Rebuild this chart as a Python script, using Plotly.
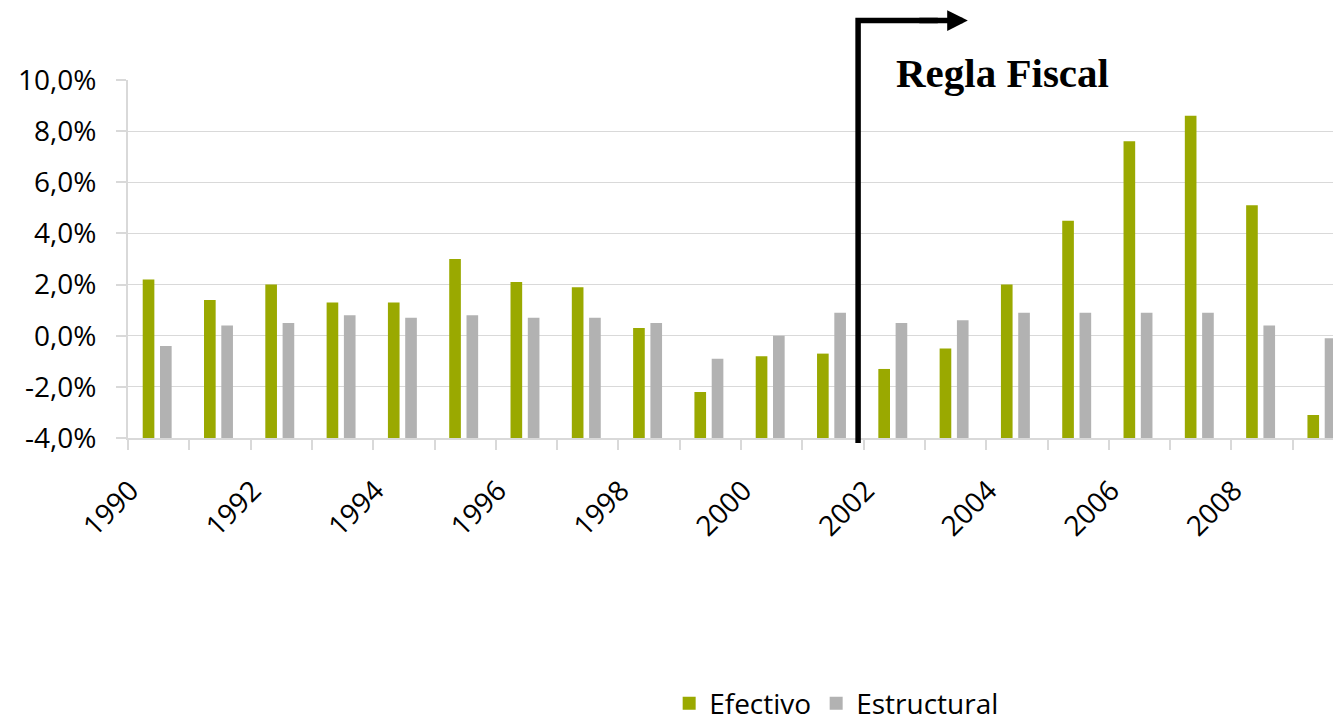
import plotly.graph_objects as go

years = list(range(1990, 2010))
efectivo = [2.2, 1.4, 2.0, 1.3, 1.3, 3.0, 2.1, 1.9, 0.3, -2.2,
            -0.8, -0.7, -1.3, -0.5, 2.0, 4.5, 7.6, 8.6, 5.1, -3.1]
estructural = [-0.4, 0.4, 0.5, 0.8, 0.7, 0.8, 0.7, 0.7, 0.5, -0.9,
               0.0, 0.9, 0.5, 0.6, 0.9, 0.9, 0.9, 0.9, 0.4, -0.1]
label_years = list(range(1990, 2010, 2))
y_ticks = [-4, -2, 0, 2, 4, 6, 8, 10]
y_ticktext = [f"{v:.1f}".replace(".", ",") + "%" for v in y_ticks]

Y_MIN, Y_MAX = -4, 10
GREEN = "#9aa900"
GRAY = "#b2b2b2"
GRID = "#d9d9d9"
FONT = "Open Sans"
BAR_W = 0.19

fig = go.Figure()
for name, vals, col, off in [("Efectivo", efectivo, GREEN, -0.26),
                             ("Estructural", estructural, GRAY, 0.022)]:
    fig.add_trace(go.Bar(
        x=years, y=[v - Y_MIN for v in vals], base=Y_MIN, name=name,
        width=BAR_W, offset=off,
        legendgroup=name, showlegend=False,
        customdata=vals, hovertemplate="%{x}: %{customdata:.1f}%<extra>" + name + "</extra>",
        marker=dict(color=col, line=dict(width=0)),
    ))
    # legend-only entry with a square swatch
    fig.add_trace(go.Scatter(
        x=[None], y=[None], mode="markers", name=name, legendgroup=name,
        marker=dict(symbol="square", size=13, color=col), showlegend=True,
    ))

fig.update_layout(
    width=1333, height=726,
    margin=dict(l=128, r=0, t=80, b=288, autoexpand=False),
    paper_bgcolor="white", plot_bgcolor="white",
    barmode="overlay",
    font=dict(family=FONT, size=28, color="black"),
    showlegend=True,
    legend=dict(orientation="h", xref="container", yref="container",
                x=0.502, y=0.031, xanchor="left", yanchor="middle",
                font=dict(size=28), itemwidth=30, traceorder="normal"),
)
fig.update_xaxes(
    range=[1989.5, 2009.157],
    tickmode="array", tickvals=[y - 0.46 for y in label_years],
    ticktext=[str(y) for y in label_years],
    tickangle=-45, ticks="", ticklabelstandoff=23,
    showline=True, linecolor=GRID, linewidth=2,
    showgrid=False, zeroline=False,
    minor=dict(tick0=1989.5, dtick=1, ticks="outside", ticklen=10,
               tickcolor=GRID, tickwidth=2, showgrid=False),
    tickfont=dict(size=28),
)
fig.update_yaxes(
    range=[Y_MIN, Y_MAX], tickmode="array", tickvals=y_ticks, ticktext=y_ticktext,
    ticks="outside", ticklen=10, tickcolor=GRID, tickwidth=2,
    showline=True, linecolor=GRID, linewidth=2,
    showgrid=True, gridcolor=GRID, gridwidth=1, zeroline=False,
    ticklabelstandoff=14, tickfont=dict(size=28),
)

# Regla Fiscal marker: vertical line + arrow
x_rule = 2001.41
y_top = 1.166
fig.add_shape(type="path", xref="x", yref="paper",
              path=f"M {x_rule},-0.014 L {x_rule},{y_top} L {x_rule + 1.3},{y_top}",
              line=dict(color="black", width=5.5))
fig.add_annotation(x=2003.2, y=y_top, xref="x", yref="paper",
                   ax=-50, ay=0, axref="pixel", ayref="pixel", text="",
                   showarrow=True, arrowhead=2, arrowsize=0.75, arrowwidth=5.5,
                   arrowcolor="black", standoff=0)
fig.add_annotation(x=2003.76, y=1.02, xref="x", yref="paper", text="<b>Regla Fiscal</b>",
                   showarrow=False, xanchor="center", yanchor="middle",
                   font=dict(family="Liberation Serif", size=41, color="black"))

# remove the default page margin so the figure fills the window exactly
fig.write_html("out.html", config={"displayModeBar": False},
               post_script="document.body.style.margin='0';document.body.style.overflow='hidden';")
